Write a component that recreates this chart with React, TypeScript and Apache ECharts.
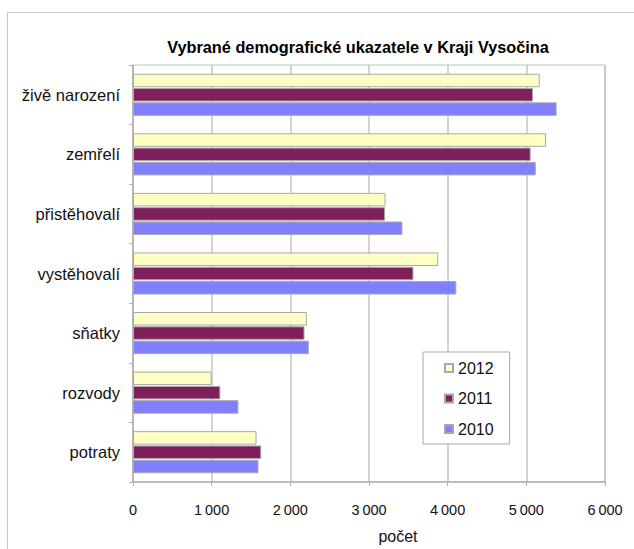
import React, { useEffect, useRef } from "react";
import * as echarts from "echarts";

const categories = ["živě narození", "zemřelí", "přistěhovalí", "vystěhovalí", "sňatky", "rozvody", "potraty"];
const values2012 = [5170, 5250, 3210, 3880, 2210, 1000, 1570];
const values2011 = [5085, 5055, 3205, 3565, 2180, 1110, 1630];
const values2010 = [5385, 5120, 3425, 4110, 2235, 1340, 1595];
const seriesNames = ["2012", "2011", "2010"];
const xTicks = { min: 0, max: 6000, interval: 1000 };

const FONT = "'Liberation Sans', Arial, sans-serif";

export default function App() {
  const ref = useRef<HTMLDivElement>(null);
  useEffect(() => {
    if (!ref.current) return;
    const chart = echarts.init(ref.current, null, { renderer: "svg" });
    const barBase = { type: "bar" as const, barWidth: 13.5, barGap: "6%" };
    chart.setOption({
      animation: false,
      backgroundColor: "#ffffff",
      textStyle: { fontFamily: FONT },
      title: {
        text: "Vybrané demografické ukazatele v Kraji Vysočina",
        left: 353,
        textAlign: "center",
        top: 34,
        textStyle: { fontSize: 16.3, fontWeight: "bold", color: "#000", fontFamily: FONT },
      },
      graphic: [
        {
          type: "rect",
          shape: { x: 7.5, y: 12.5, width: 700, height: 700 },
          style: { fill: "none", stroke: "#c8c8c8", lineWidth: 1 },
          silent: true,
        },
      ],
      legend: {
        orient: "vertical",
        left: 423,
        top: 352,
        data: seriesNames,
        itemWidth: 8,
        itemHeight: 8,
        itemGap: 14.5,
        padding: [8, 16, 7, 21],
        borderColor: "#a8a8a8",
        borderWidth: 1,
        backgroundColor: "#ffffff",
        textStyle: { fontSize: 16, color: "#111", fontFamily: FONT },
        icon: "rect",
      },
      grid: {
        left: 133,
        right: 29,
        top: 65,
        bottom: 66,
        show: true,
        borderColor: "#c0c0c0",
        borderWidth: 1,
      },
      xAxis: {
        type: "value",
        min: xTicks.min,
        max: xTicks.max,
        interval: xTicks.interval,
        name: "počet",
        nameLocation: "middle",
        nameGap: 46,
        nameTextStyle: { fontSize: 16, color: "#111", fontFamily: FONT, padding: [0, 0, 0, 58] },
        axisLine: { show: true, lineStyle: { color: "#b0b0b0", width: 1.5 } },
        axisTick: { show: true, length: 4, lineStyle: { color: "#b0b0b0" } },
        splitLine: { show: true, lineStyle: { color: "#c4c4c4", width: 1.5 } },
        axisLabel: {
          fontSize: 14.5,
          color: "#111",
          margin: 20,
          fontFamily: FONT,
          formatter: (v: number) => String(v).replace(/\B(?=(\d{3})+(?!\d))/g, "\u2009"),
        },
      },
      yAxis: {
        type: "category",
        data: categories,
        inverse: true,
        axisLine: { show: true, lineStyle: { color: "#b0b0b0", width: 1.5 } },
        axisTick: { show: true, length: 4, lineStyle: { color: "#b0b0b0" } },
        axisLabel: { fontSize: 16.5, color: "#111", margin: 13, fontFamily: FONT },
        splitLine: { show: false },
      },
      series: [
        {
          ...barBase,
          name: "2012",
          data: values2012,
          itemStyle: { color: "#ffffc4", borderColor: "#a8a8a8", borderWidth: 1 },
        },
        {
          ...barBase,
          name: "2011",
          data: values2011,
          itemStyle: { color: "#7f1f5c", borderColor: "#a8a8a8", borderWidth: 1 },
        },
        {
          ...barBase,
          name: "2010",
          data: values2010,
          itemStyle: { color: "#8080ff", borderColor: "#a8a8a8", borderWidth: 1 },
        },
      ],
    });
    return () => chart.dispose();
  }, []);
  return <div ref={ref} style={{ width: 634, height: 549, position: "absolute", left: 0, top: 0 }} />;
}
